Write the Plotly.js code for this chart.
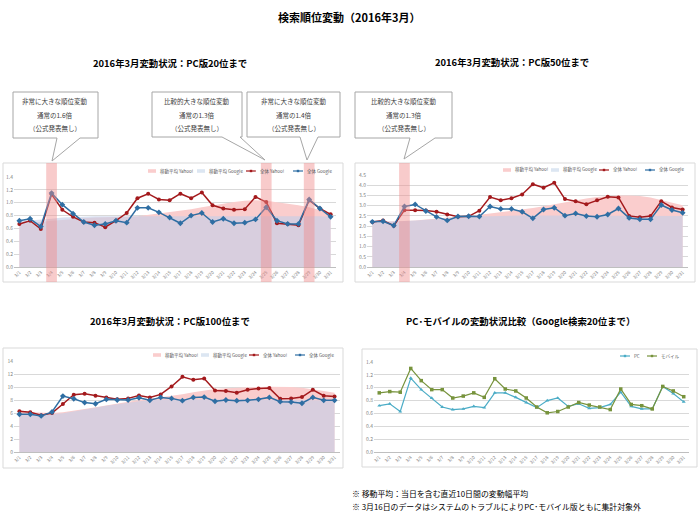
<!DOCTYPE html>
<html><head><meta charset="utf-8">
<script src="https://cdn.plot.ly/plotly-3.0.1.min.js"></script>
<style>html,body{margin:0;padding:0;background:#fff;overflow:hidden}</style>
</head><body><div id="chart" style="width:700px;height:525px"></div>
<script>
// ---- data ----
const dates = ["3/1","3/2","3/3","3/4","3/5","3/6","3/7","3/8","3/9","3/10","3/11","3/12","3/13","3/14","3/15",
  "3/17","3/18","3/19","3/20","3/21","3/22","3/23","3/24","3/25","3/26","3/27","3/28","3/29","3/30","3/31"];

const top20Yahoo  = [0.67,0.72,0.59,1.13,0.89,0.78,0.70,0.69,0.62,0.72,0.84,1.07,1.14,1.05,1.04,1.14,1.07,1.16,0.96,0.91,0.89,0.90,1.09,1.01,0.68,0.67,0.65,1.04,0.91,0.82];
const top20Google = [0.72,0.75,0.63,1.15,0.97,0.83,0.70,0.65,0.67,0.72,0.69,0.92,0.92,0.85,0.77,0.68,0.80,0.84,0.70,0.75,0.68,0.69,0.74,0.93,0.72,0.67,0.67,1.05,0.91,0.78];
const top20MaYahoo  = [0.67,0.69,0.70,0.72,0.73,0.75,0.76,0.77,0.77,0.78,0.78,0.79,0.81,0.83,0.85,0.87,0.90,0.93,0.96,0.99,1.01,1.03,1.04,1.03,1.01,0.99,0.96,0.93,0.89,0.84];
const top20MaGoogle = [0.71,0.72,0.73,0.75,0.77,0.78,0.79,0.79,0.79,0.79,0.79,0.80,0.80,0.80,0.80,0.79,0.79,0.79,0.79,0.79,0.79,0.79,0.79,0.79,0.79,0.79,0.79,0.79,0.79,0.78];

const top50Yahoo  = [2.20,2.27,2.02,2.78,2.78,2.76,2.70,2.57,2.46,2.48,2.75,3.42,3.27,3.36,3.55,4.05,3.88,4.12,3.32,3.22,3.07,3.26,3.44,3.40,2.50,2.43,2.49,3.22,2.91,2.81];
const top50Google = [2.21,2.24,2.03,2.96,3.06,2.74,2.45,2.28,2.47,2.48,2.47,2.96,2.84,2.84,2.70,2.38,2.81,2.90,2.51,2.62,2.49,2.46,2.57,2.86,2.40,2.33,2.33,3.03,2.79,2.65];
const top50MaYahoo  = [2.20,2.21,2.22,2.25,2.28,2.32,2.36,2.40,2.45,2.50,2.55,2.62,2.68,2.74,2.80,2.88,2.97,3.07,3.17,3.27,3.35,3.42,3.47,3.50,3.50,3.47,3.40,3.28,3.15,3.02];
const top50MaGoogle = [2.20,2.21,2.22,2.25,2.28,2.32,2.36,2.39,2.42,2.45,2.47,2.49,2.50,2.51,2.52,2.52,2.52,2.52,2.52,2.52,2.52,2.52,2.52,2.52,2.52,2.51,2.51,2.50,2.50,2.50];

const top100Yahoo  = [6.26,6.10,5.65,6.00,7.38,8.80,8.96,8.66,8.40,8.10,8.25,8.70,8.40,8.86,10.08,11.56,11.10,11.30,9.47,9.37,9.11,9.57,9.78,9.83,8.20,8.25,8.45,9.57,8.66,8.55];
const top100Google = [5.80,5.80,5.55,6.16,8.60,8.20,7.60,7.43,8.10,8.00,8.00,8.35,7.95,8.40,8.25,7.90,8.40,8.45,7.80,8.00,7.90,7.95,8.10,8.40,7.75,7.70,7.50,8.40,7.95,7.95];
const top100MaYahoo  = [6.2,6.1,6.0,6.0,6.1,6.3,6.6,6.9,7.2,7.5,7.8,8.0,8.2,8.4,8.6,8.9,9.2,9.5,9.7,9.8,9.9,10.0,10.0,10.05,10.05,10.0,9.9,9.7,9.4,9.1];
const top100MaGoogle = [5.8,5.8,5.75,5.8,5.95,6.2,6.5,6.8,7.1,7.35,7.6,7.8,7.95,8.05,8.1,8.1,8.1,8.1,8.1,8.05,8.05,8.0,8.0,8.0,8.0,8.0,8.0,7.95,7.95,7.95];

const pcValues     = [0.72,0.75,0.63,1.15,0.97,0.84,0.70,0.66,0.67,0.71,0.69,0.92,0.92,0.85,0.77,0.69,0.80,0.84,0.71,0.75,0.68,0.69,0.74,0.93,0.71,0.67,0.67,1.02,0.91,0.78];
const mobileValues = [0.92,0.94,0.93,1.30,1.11,0.97,0.97,0.84,0.87,0.92,0.85,1.14,0.98,0.95,0.84,0.70,0.61,0.63,0.70,0.77,0.73,0.70,0.66,0.98,0.74,0.72,0.67,1.02,0.95,0.86];

const seriesNames = ["移動平均 Yahoo!","移動平均 Google","全体 Yahoo!","全体 Google"];
const compareNames = ["PC","モバイル"];
const highlight20 = ["3/4","3/25","3/29"];
const highlight50 = ["3/4"];

const mainTitle = "検索順位変動（2016年3月）";
const chartTitles = ["2016年3月変動状況：PC版20位まで","2016年3月変動状況：PC版50位まで","2016年3月変動状況：PC版100位まで","PC･モバイルの変動状況比較（Google検索20位まで）"];
const callouts20 = [
  ["非常に大きな順位変動","通常の1.6倍","（公式発表無し）"],
  ["比較的大きな順位変動","通常の1.3倍","（公式発表無し）"],
  ["非常に大きな順位変動","通常の1.4倍","（公式発表無し）"]
];
const callouts50 = [["比較的大きな順位変動","通常の1.3倍","（公式発表無し）"]];
const footnotes = ["※ 移動平均：当日を含む直近10日間の変動幅平均","※ 3月16日のデータはシステムのトラブルによりPC･モバイル版ともに集計対象外"];

// ---- helpers (pixel -> paper) ----
const W = 700, H = 525;
const px = x => x / W;
const py = y => 1 - y / H;
const FONT = "Noto Sans CJK JP, sans-serif";

const C = {
  yahoo: "#a3191c", google: "#2f6ea3",
  maYahoo: "rgba(250,205,205,1)", maGoogle: "rgba(196,206,232,0.62)", maGoogleKey: "#dce6f2",
  pc: "#4bacc6", mobile: "#77933c"
};

function xaxis(domain, anchor) {
  return {domain: domain, anchor: anchor, type: "category", range: [-0.5, dates.length - 0.5],
    showline: true, linecolor: "#bfbfbf", linewidth: 1, showgrid: false, zeroline: false, automargin: false,
    ticks: "", tickangle: -45, tickfont: {size: 4.5, color: "#7f7f7f", family: FONT}, fixedrange: true};
}
function yaxis(domain, anchor, max, dtick, fmt) {
  return {domain: domain, anchor: anchor, range: [0, max], dtick: dtick, tickformat: fmt, automargin: false,
    showline: false, gridcolor: "#d9d9d9", gridwidth: 1, zeroline: false, ticks: "",
    tickfont: {size: 5, color: "#7f7f7f", family: FONT}, fixedrange: true};
}

const traces = [];
function addSet(ax, maY, maG, y, g) {
  const xa = ax === 1 ? "x" : "x" + ax, ya = ax === 1 ? "y" : "y" + ax;
  traces.push({x: dates, y: maY, name: seriesNames[0], type: "scatter", mode: "lines", fill: "tozeroy",
    fillcolor: C.maYahoo, line: {width: 0, color: C.maYahoo}, xaxis: xa, yaxis: ya});
  traces.push({x: dates, y: maG, name: seriesNames[1], type: "scatter", mode: "lines", fill: "tozeroy",
    fillcolor: C.maGoogle, line: {width: 0, color: C.maGoogleKey}, xaxis: xa, yaxis: ya});
  traces.push({x: dates, y: y, name: seriesNames[2], type: "scatter", mode: "lines+markers",
    line: {width: 1.5, color: C.yahoo}, marker: {size: 4, color: C.yahoo, symbol: "circle"}, xaxis: xa, yaxis: ya});
  traces.push({x: dates, y: g, name: seriesNames[3], type: "scatter", mode: "lines+markers",
    line: {width: 1.5, color: C.google}, marker: {size: 4.5, color: C.google, symbol: "diamond"}, xaxis: xa, yaxis: ya});
}
addSet(1, top20MaYahoo, top20MaGoogle, top20Yahoo, top20Google);
addSet(2, top50MaYahoo, top50MaGoogle, top50Yahoo, top50Google);
addSet(3, top100MaYahoo, top100MaGoogle, top100Yahoo, top100Google);
traces.push({x: dates, y: pcValues, name: compareNames[0], type: "scatter", mode: "lines+markers",
  line: {width: 1.2, color: C.pc}, marker: {size: 3.5, color: C.pc, symbol: "triangle-up"}, xaxis: "x4", yaxis: "y4"});
traces.push({x: dates, y: mobileValues, name: compareNames[1], type: "scatter", mode: "lines+markers",
  line: {width: 1.2, color: C.mobile}, marker: {size: 3.5, color: C.mobile, symbol: "square"}, xaxis: "x4", yaxis: "y4"});

// ---- shapes ----
const shapes = [];
const annotations = [];
function frame(x0, y0, x1, y1) {
  shapes.push({type: "rect", xref: "paper", yref: "paper", x0: px(x0), x1: px(x1), y0: py(y1), y1: py(y0),
    line: {color: "#d9d9d9", width: 1}, fillcolor: "rgba(0,0,0,0)", layer: "below"});
}
frame(3, 163, 343, 282);
frame(355, 163, 695, 282);
frame(3, 348, 343, 468);
frame(362, 349, 697, 467);

function band(xa, label, y0, y1) {
  const i = dates.indexOf(label);
  shapes.push({type: "rect", xref: xa, yref: "paper", x0: i - 0.5, x1: i + 0.5, y0: py(y1), y1: py(y0),
    fillcolor: "rgba(240,140,140,0.45)", line: {width: 0}, layer: "above"});
}
highlight20.forEach(d => band("x", d, 163, 282));
highlight50.forEach(d => band("x2", d, 163, 282));

function callout(bx0, by0, bx1, by1, tl, tr, tipx, tipy, lines) {
  const P = (x, y) => px(x) + "," + py(y);
  const path = "M" + P(bx0, by0) + " L" + P(bx1, by0) + " L" + P(bx1, by1) + " L" + P(tr, by1) +
    " L" + P(tipx, tipy) + " L" + P(tl, by1) + " L" + P(bx0, by1) + " Z";
  shapes.push({type: "path", xref: "paper", yref: "paper", path: path,
    line: {color: "#a6a6a6", width: 1}, fillcolor: "#ffffff", layer: "above"});
  const cx = (bx0 + bx1) / 2;
  lines.forEach((t, k) => annotations.push({xref: "paper", yref: "paper", x: px(cx), y: py(by0 + 9 + k * 13.5),
    text: t, showarrow: false, xanchor: "center", yanchor: "middle", font: {size: 6.5, color: "#404040", family: FONT}}));
}
callout(13, 92, 98, 138, 57, 80, 52, 161, callouts20[0]);
callout(152, 92, 242, 137, 222, 240, 265, 160, callouts20[1]);
callout(247, 92, 340, 137, 300, 318, 307, 160, callouts20[2]);
callout(355, 92, 452, 138, 410, 435, 404, 159, callouts50[0]);

// ---- manual legends (compact keys like the original) ----
function key(x, y, kind, color, text) {
  if (kind === "area") {
    shapes.push({type: "rect", xref: "paper", yref: "paper", x0: px(x), x1: px(x + 8), y0: py(y + 1.8), y1: py(y - 1.8),
      fillcolor: color, line: {width: 0}, layer: "above"});
  } else {
    shapes.push({type: "line", xref: "paper", yref: "paper", x0: px(x), x1: px(x + 10), y0: py(y), y1: py(y),
      line: {color: color, width: 1.2}, layer: "above"});
    shapes.push({type: "rect", xref: "paper", yref: "paper", x0: px(x + 3.8), x1: px(x + 6.2), y0: py(y + 1.2), y1: py(y - 1.2),
      fillcolor: color, line: {width: 0}, layer: "above"});
  }
  annotations.push({xref: "paper", yref: "paper", x: px(x + (kind === "area" ? 10 : 12)), y: py(y), text: text, showarrow: false,
    xanchor: "left", yanchor: "middle", font: {size: 4.5, color: "#595959", family: FONT}});
}
function legendSet(x0, y, step) {
  key(x0, y, "area", C.maYahoo, seriesNames[0]);
  key(x0 + step, y, "area", C.maGoogleKey, seriesNames[1]);
  key(x0 + 2 * step, y, "line", C.yahoo, seriesNames[2]);
  key(x0 + 3 * step - 2, y, "line", C.google, seriesNames[3]);
}
legendSet(148, 171, 49);
legendSet(503, 170, 48);
legendSet(153, 355, 48);
key(620, 356, "line", C.pc, compareNames[0]);
key(647, 356, "line", C.mobile, compareNames[1]);

// ---- titles / notes ----
annotations.push({xref: "paper", yref: "paper", x: px(349), y: py(17), text: "<b>" + mainTitle + "</b>", showarrow: false,
  xanchor: "center", yanchor: "middle", font: {size: 11, color: "#000", family: FONT}});
[[170, 63], [512, 62], [170, 321], [520, 321]].forEach((p, i) => annotations.push({xref: "paper", yref: "paper",
  x: px(p[0]), y: py(p[1]), text: "<b>" + chartTitles[i] + "</b>", showarrow: false, xanchor: "center", yanchor: "middle",
  font: {size: 9.4, color: "#000", family: FONT}}));
footnotes.forEach((t, i) => annotations.push({xref: "paper", yref: "paper", x: px(350), y: py(493 + i * 13.5), text: t,
  showarrow: false, xanchor: "left", yanchor: "middle", font: {size: 7.9, color: "#000", family: FONT}}));

const layout = {
  width: W, height: H, margin: {l: 0, r: 0, t: 0, b: 0, autoexpand: false}, paper_bgcolor: "#fff", plot_bgcolor: "rgba(0,0,0,0)",
  font: {family: FONT}, showlegend: false,
  xaxis: xaxis([px(14), px(336)], "y"), yaxis: yaxis([py(267), py(177)], "x", 1.4, 0.2, ".1f"),
  xaxis2: xaxis([px(367), px(688)], "y2"), yaxis2: yaxis([py(267), py(175)], "x2", 4.5, 0.5, ".1f"),
  xaxis3: xaxis([px(14), px(340)], "y3"), yaxis3: yaxis([py(452), py(361)], "x3", 14, 2, "d"),
  xaxis4: xaxis([px(374), px(689)], "y4"), yaxis4: yaxis([py(452), py(362)], "x4", 1.4, 0.2, ".1f"),
  shapes: shapes, annotations: annotations
};
Plotly.newPlot("chart", traces, layout, {staticPlot: true, displayModeBar: false});
</script></body></html>
